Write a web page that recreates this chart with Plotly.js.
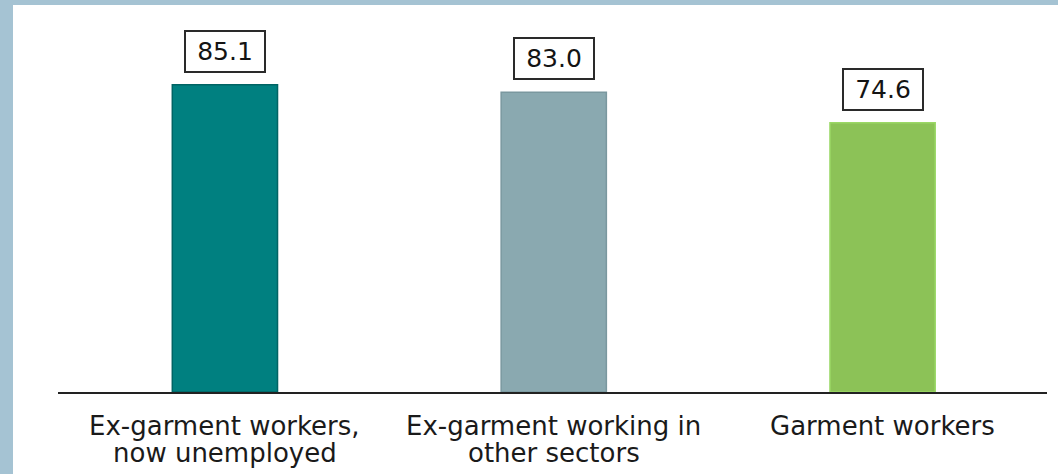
<!DOCTYPE html>
<html>
<head>
<meta charset="utf-8">
<script src="https://cdn.plot.ly/plotly-3.0.1.min.js"></script>
<style>
  html, body { margin: 0; padding: 0; width: 1058px; height: 474px; background: #A5C3D3; overflow: hidden; }
  #chart { position: absolute; left: 13px; top: 5px; width: 1045px; height: 469px; background: #ffffff; }
</style>
</head>
<body>
<div id="chart"></div>
<script>
// Share of respondents per worker group
const categories = ['ex_unemployed', 'ex_other', 'garment'];
const categoryLines = [
  ['Ex-garment workers,', 'now unemployed'],
  ['Ex-garment working in', 'other sectors'],
  ['Garment workers']
];
const values = [85.1, 83.0, 74.6];
const valueLabels = ['85.1', '83.0', '74.6'];
const barColors = ['#008080', '#8AA9B0', '#8CC257'];
const barEdges = ['#006464', '#7A989F', '#9BD866'];

const FONT = 'DejaVu Sans, Verdana, sans-serif';

const trace = {
  type: 'bar',
  x: categories,
  y: values,
  width: 0.32,
  marker: { color: barColors, line: { color: barEdges, width: 1.5 } },
  hoverinfo: 'none'
};

const annotations = [];
// value boxes above each bar
categories.forEach((c, i) => {
  annotations.push({
    x: c, y: values[i], xref: 'x', yref: 'y',
    text: valueLabels[i],
    showarrow: false,
    yanchor: 'bottom', yshift: 12,
    width: 76, height: 37,
    bgcolor: '#ffffff', bordercolor: '#2a2a2a', borderwidth: 2, borderpad: 1,
    font: { family: FONT, size: 25, color: '#141414' }
  });
});
// category labels under the axis, one annotation per line
categories.forEach((c, i) => {
  categoryLines[i].forEach((line, j) => {
    annotations.push({
      x: c, y: 0, xref: 'x', yref: 'paper',
      text: line,
      showarrow: false,
      yanchor: 'top', yshift: -17 - 27 * j,
      font: { family: FONT, size: 26, color: '#1a1a1a' }
    });
  });
});

const layout = {
  width: 1045, height: 469,
  margin: { l: 45, r: 10.5, t: 5, b: 82 },
  paper_bgcolor: '#ffffff',
  plot_bgcolor: '#ffffff',
  showlegend: false,
  xaxis: {
    type: 'category',
    range: [-0.5076, 2.5],
    showticklabels: false,
    ticks: '',
    showgrid: false,
    zeroline: false,
    showline: true, linecolor: '#222222', linewidth: 2
  },
  yaxis: {
    range: [0, 105.8],
    visible: false,
    showgrid: false,
    zeroline: false
  },
  annotations: annotations
};

Plotly.newPlot('chart', [trace], layout, { staticPlot: true, displayModeBar: false });
</script>
</body>
</html>
